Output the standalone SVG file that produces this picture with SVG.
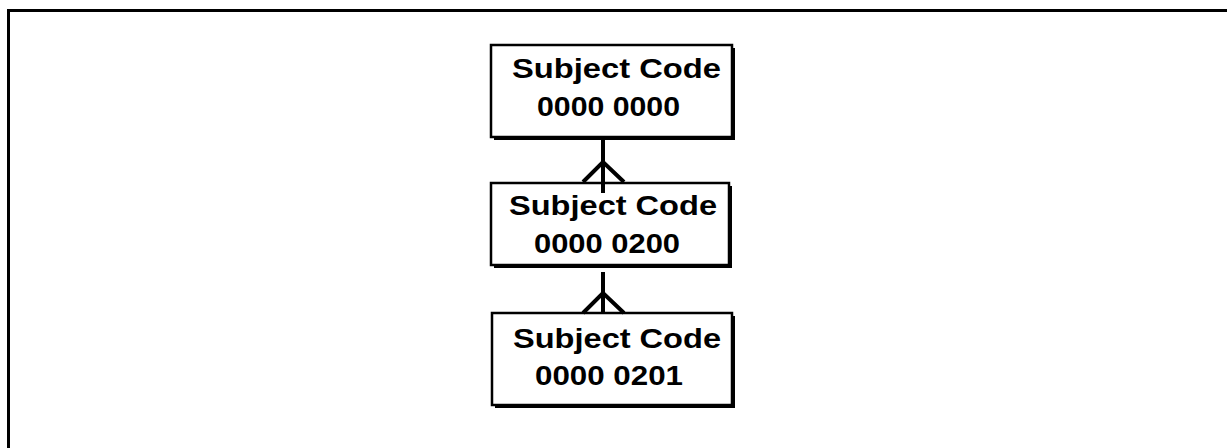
<svg xmlns="http://www.w3.org/2000/svg" width="1227" height="448" viewBox="0 0 1227 448">
<style>
.box{fill:#fff;stroke:#000;stroke-width:2.5}
.shadow{fill:#000}
.t{font-family:"Liberation Sans",Arial,sans-serif;font-weight:bold;font-size:28.5px;fill:#000}
.c{stroke:#000;stroke-width:4;fill:none}
.frame{stroke:#000;stroke-width:3;fill:none}
</style>
<rect width="1227" height="448" fill="#fff"/>
<path class="frame" d="M8.5 448 V10.5 H1227"/>
<g id="node1">
<rect class="shadow" x="494" y="48" width="241" height="92"/>
<rect class="box" x="491" y="45" width="241" height="92"/>
<text class="t" x="512" y="78" textLength="209" lengthAdjust="spacingAndGlyphs">Subject Code</text>
<text class="t" x="537" y="116" textLength="143" lengthAdjust="spacingAndGlyphs">0000 0000</text>
</g>
<g id="node2">
<rect class="shadow" x="494" y="186" width="238" height="82"/>
<rect class="box" x="491" y="183" width="238" height="82"/>
<text class="t" x="509" y="215" textLength="208" lengthAdjust="spacingAndGlyphs">Subject Code</text>
<text class="t" x="534" y="253" textLength="146" lengthAdjust="spacingAndGlyphs">0000 0200</text>
</g>
<g id="node3">
<rect class="shadow" x="495" y="316" width="240" height="92"/>
<rect class="box" x="492" y="313" width="240" height="92"/>
<text class="t" x="513" y="348" textLength="208" lengthAdjust="spacingAndGlyphs">Subject Code</text>
<text class="t" x="535" y="385" textLength="148" lengthAdjust="spacingAndGlyphs">0000 0201</text>
</g>
<g id="connectors">
<path class="c" d="M603 140 V193 M583 182 L603 162 L624 182"/>
<path class="c" d="M603 272 V313 M583 313 L603 293 L624 313"/>
</g>
</svg>
